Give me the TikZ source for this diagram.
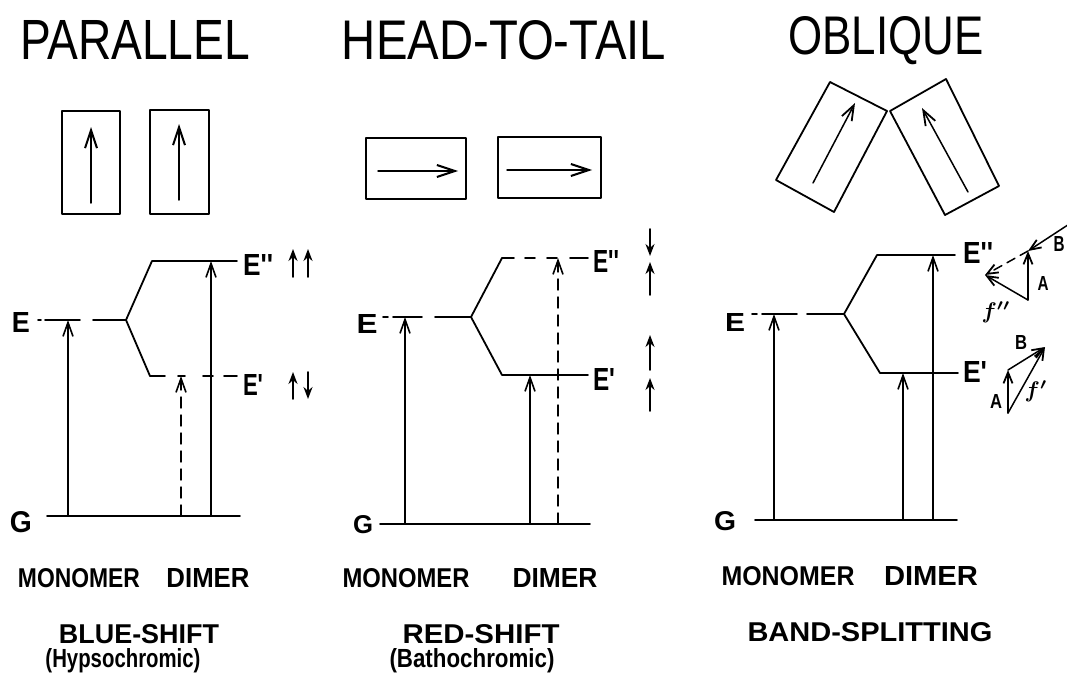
\documentclass[tikz,border=0pt]{standalone}
\usepackage{fontspec}
\setmainfont{Liberation Sans}
\usetikzlibrary{arrows.meta}
\newcommand{\fitt}[3]{\resizebox{#1pt}{#2pt}{#3}}
\newcommand{\fith}[2]{\resizebox{!}{#1pt}{#2}}
\newcommand{\pr}{\textquotesingle}
\begin{document}
\begin{tikzpicture}[x=1pt,y=-1pt, line cap=round, line join=round,
  lvl/.style={line width=1.8pt},
  tr/.style={line width=1.4pt, -{Straight Barb[length=14pt,width=10pt,line width=1.6pt]}},
  dtr/.style={tr, dash pattern=on 11pt off 7pt},
  mol/.style={line width=2.2pt},
  dip/.style={line width=1.5pt, -{Straight Barb[length=18pt,width=12pt,line width=2pt]}},
  spin/.style={line width=1.8pt, -{Stealth[length=12pt,width=9pt]}},
  vec/.style={line width=1.5pt, -{Straight Barb[length=11pt,width=9pt,line width=1.8pt]}},
  lab/.style={inner sep=0pt, outer sep=0pt, font=\bfseries},
  ttl/.style={inner sep=0pt, outer sep=0pt},
]
\useasboundingbox (0,0) rectangle (1067,674);
\clip (0,0) rectangle (1067,674);

% ---------------- titles ----------------
\node[ttl] (t1) at (135,40) {\fitt{230}{39}{PARALLEL}};
\node[ttl] (t2) at (504,40) {\fitt{324}{39}{HEAD-TO-TAIL}};
\node[ttl] (t3) at (886,41) {\fitt{195}{38}{OBLIQUE}};

% ---------------- PARALLEL ----------------
\draw[mol] (62,111) rectangle (120,214);
\draw[mol] (150,110) rectangle (209,214);
\coordinate (pa1) at (91,203); \coordinate (pa2) at (91,127);
\coordinate (pb1) at (179,200); \coordinate (pb2) at (179,124);
\draw[dip] (pa1) -- (pa2);
\draw[dip] (pb1) -- (pb2);

\coordinate (pE0) at (38,320); \coordinate (pE1) at (41,320);
\coordinate (pE2) at (45,320); \coordinate (pEa) at (80,320);
\coordinate (pEb) at (93,320); \coordinate (pS) at (126,320);
\coordinate (pU) at (152,261); \coordinate (pUe) at (237,261);
\coordinate (pL) at (150,376); \coordinate (pLe) at (237,376);
\coordinate (pG0) at (47,516); \coordinate (pGe) at (240,516);
\draw[lvl] (pE0) -- (pE1);
\draw[lvl] (pE2) -- (pEa);
\draw[lvl] (pEb) -- (pS) -- (pU) -- (pUe);
\draw[lvl] (pS) -- (pL);
\draw[lvl, dash pattern=on 15pt off 13pt on 7pt off 18pt on 10pt off 11pt on 13pt] (pL) -- (pLe);
\draw[lvl] (pG0) -- (pGe);
\coordinate (pm0) at (68,516); \coordinate (pm1) at (68,320);
\coordinate (pd0) at (181,516); \coordinate (pd1) at (181,376);
\coordinate (pe0) at (211,516); \coordinate (pe1) at (211,261);
\draw[tr] (pm0) -- (pm1);
\draw[dtr] (pd0) -- (pd1);
\draw[tr] (pe0) -- (pe1);
\node[lab] (pElab) at (21,322) {\fitt{18}{20}{E}};
\node[lab] (pGlab) at (21,522) {\fitt{22}{21}{G}};
\node[lab, anchor=west] (pE2lab) at (243,265) {\fitt{30}{21}{E\pr\pr}};
\node[lab, anchor=west] (pE1lab) at (243,385) {\fitt{20}{21}{E\pr}};
\coordinate (ps1a) at (293,277); \coordinate (ps1b) at (293,249);
\coordinate (ps2a) at (308,277); \coordinate (ps2b) at (308,249);
\coordinate (ps3a) at (293,399); \coordinate (ps3b) at (293,372);
\coordinate (ps4a) at (308,372); \coordinate (ps4b) at (308,399);
\draw[spin] (ps1a) -- (ps1b);
\draw[spin] (ps2a) -- (ps2b);
\draw[spin] (ps3a) -- (ps3b);
\draw[spin] (ps4a) -- (ps4b);

% ---------------- HEAD-TO-TAIL ----------------
\draw[mol] (366,138) rectangle (466,199);
\draw[mol] (498,137) rectangle (601,198);
\coordinate (ha1) at (378,171); \coordinate (ha2) at (458,171);
\coordinate (hb1) at (507,170); \coordinate (hb2) at (592,170);
\draw[dip] (ha1) -- (ha2);
\draw[dip] (hb1) -- (hb2);

\coordinate (hE0) at (383,317); \coordinate (hE1) at (388,317);
\coordinate (hE2) at (393,317); \coordinate (hEa) at (422,317);
\coordinate (hEb) at (435,317); \coordinate (hS) at (471,317);
\coordinate (hU) at (502,258); \coordinate (hUe) at (588,258);
\coordinate (hL) at (502,375); \coordinate (hLe) at (588,375);
\coordinate (hG0) at (380,524); \coordinate (hGe) at (590,524);
\draw[lvl] (hE0) -- (hE1);
\draw[lvl] (hE2) -- (hEa);
\draw[lvl] (hEb) -- (hS) -- (hL) -- (hLe);
\draw[lvl] (hS) -- (hU);
\draw[lvl, dash pattern=on 12pt off 11pt on 10pt off 12pt on 10pt off 13pt on 18pt] (hU) -- (hUe);
\draw[lvl] (hG0) -- (hGe);
\coordinate (hm0) at (405,524); \coordinate (hm1) at (405,317);
\coordinate (hd0) at (530,524); \coordinate (hd1) at (530,375);
\coordinate (he0) at (558,524); \coordinate (he1) at (558,258);
\draw[tr] (hm0) -- (hm1);
\draw[tr] (hd0) -- (hd1);
\draw[dtr] (he0) -- (he1);
\node[lab] (hElab) at (367,324) {\fitt{21}{19}{E}};
\node[lab] (hGlab) at (363,525) {\fitt{20}{18}{G}};
\node[lab, anchor=west] (hE2lab) at (593,261) {\fitt{26}{22}{E\pr\pr}};
\node[lab, anchor=west] (hE1lab) at (593,379) {\fitt{22}{22}{E\pr}};
\coordinate (hs1a) at (650,229); \coordinate (hs1b) at (650,256);
\coordinate (hs2a) at (650,295); \coordinate (hs2b) at (650,262);
\coordinate (hs3a) at (650,370); \coordinate (hs3b) at (650,335);
\coordinate (hs4a) at (650,411); \coordinate (hs4b) at (650,378);
\draw[spin] (hs1a) -- (hs1b);
\draw[spin] (hs2a) -- (hs2b);
\draw[spin] (hs3a) -- (hs3b);
\draw[spin] (hs4a) -- (hs4b);

% ---------------- OBLIQUE ----------------
\draw[line width=1.8pt] (830,82) -- (887,111) -- (834,212) -- (776,180) -- cycle;
\draw[line width=1.8pt] (890,111) -- (946,79) -- (999,186) -- (945,215) -- cycle;
\coordinate (oa1) at (813,183); \coordinate (oa2) at (855,103);
\coordinate (ob1) at (968,192); \coordinate (ob2) at (922,108);
\draw[dip, -{Straight Barb[length=15pt,width=11pt,line width=1.8pt]}] (oa1) -- (oa2);
\draw[dip, -{Straight Barb[length=15pt,width=11pt,line width=1.8pt]}] (ob1) -- (ob2);

\coordinate (oE0) at (752,314); \coordinate (oE1) at (757,314);
\coordinate (oE2) at (762,314); \coordinate (oEa) at (797,314);
\coordinate (oEb) at (807,314); \coordinate (oS) at (844,314);
\coordinate (oU) at (877,255); \coordinate (oUe) at (955,255);
\coordinate (oL) at (880,373); \coordinate (oLe) at (958,373);
\coordinate (oG0) at (755,520); \coordinate (oGe) at (957,520);
\draw[lvl] (oE0) -- (oE1);
\draw[lvl] (oE2) -- (oEa);
\draw[lvl] (oEb) -- (oS) -- (oU) -- (oUe);
\draw[lvl] (oS) -- (oL) -- (oLe);
\draw[lvl] (oG0) -- (oGe);
\coordinate (om0) at (774,520); \coordinate (om1) at (774,314);
\coordinate (od0) at (903,520); \coordinate (od1) at (903,373);
\coordinate (oe0) at (933,520); \coordinate (oe1) at (933,255);
\draw[tr] (om0) -- (om1);
\draw[tr] (od0) -- (od1);
\draw[tr] (oe0) -- (oe1);
\node[lab] (oElab) at (735,322) {\fitt{20}{18}{E}};
\node[lab] (oGlab) at (725,521) {\fitt{22}{19}{G}};
\node[lab, anchor=west] (oE2lab) at (963,253) {\fitt{30}{21}{E\pr\pr}};
\node[lab, anchor=west] (oE1lab) at (963,372) {\fitt{24}{21}{E\pr}};

% vector diagram, upper (E'')
\coordinate (uB0) at (1080,217);
\coordinate (uA0) at (1028,300); \coordinate (uA1) at (1028,251);
\coordinate (uF) at (985,275);
\draw[vec] (uB0) -- (uA1);
\draw[vec] (uA0) -- (uA1);
\draw[vec, dash pattern=on 9pt off 6pt] (uA1) -- (uF);
\draw[vec] (uA0) -- (uF);
\node[lab] (uAlab) at (1043,283) {\fitt{11}{14}{A}};
\node[lab] (uBlab) at (1059,244) {\fitt{11}{15}{B}};
\node[lab] (uflab) at (996,312) {\fith{17}{\boldmath$f''$}};
% vector diagram, lower (E')
\coordinate (lA0) at (1008,413); \coordinate (lA1) at (1008,370);
\coordinate (lT) at (1045,347);
\draw[vec] (lA0) -- (lA1);
\draw[vec] (lA1) -- (lT);
\draw[vec] (lA0) -- (lT);
\node[lab] (lBlab) at (1021,342) {\fitt{12}{14}{B}};
\node[lab] (lAlab) at (996,401) {\fitt{12}{14}{A}};
\node[lab] (lflab) at (1036,391) {\fith{17}{\boldmath$f'$}};

% ---------------- bottom texts ----------------
\node[lab] (m1) at (79,578) {\fitt{122}{19}{MONOMER}};
\node[lab] (d1) at (208,578) {\fitt{83}{19}{DIMER}};
\node[lab] (m2) at (406,578) {\fitt{127}{19}{MONOMER}};
\node[lab] (d2) at (555,578) {\fitt{85}{19}{DIMER}};
\node[lab] (m3) at (788,576) {\fitt{133}{19}{MONOMER}};
\node[lab] (d3) at (931,576) {\fitt{94}{19}{DIMER}};
\node[lab] (s1) at (139,634) {\fitt{160}{19}{BLUE-SHIFT}};
\node[lab] (s1b) at (123,661) {\fitt{155}{19}{(Hypsochromic)}};
\node[lab] (s2) at (481,634) {\fitt{157}{19}{RED-SHIFT}};
\node[lab] (s2b) at (472,661) {\fitt{165}{19}{(Bathochromic)}};
\node[lab] (s3) at (870,632) {\fitt{245}{19}{BAND-SPLITTING}};
\end{tikzpicture}
\end{document}
